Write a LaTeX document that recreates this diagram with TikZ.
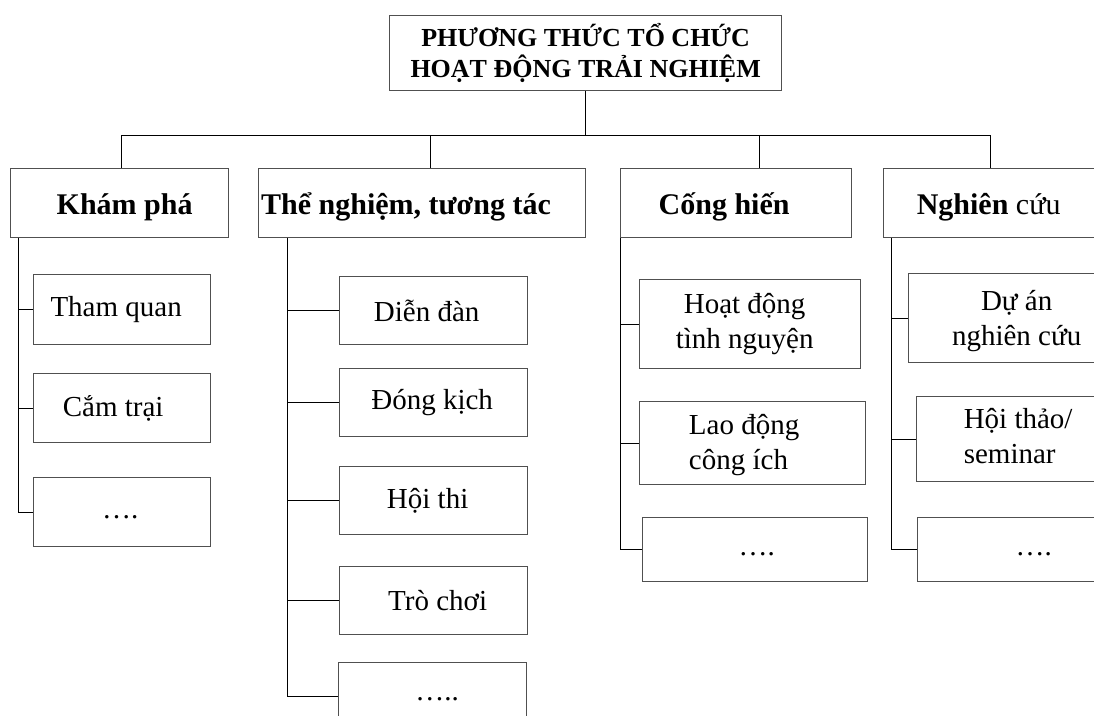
\documentclass[tikz,border=0pt]{standalone}
\usepackage{fontspec}
\setmainfont{Liberation Serif}
\definecolor{boxgray}{RGB}{80,80,80}
\tikzset{
  x=1pt, y=-1pt,
  box/.style={draw=boxgray, line width=1.3pt, inner sep=0pt},
  wire/.style={draw=black, line width=1pt},
  lbl/.style={inner sep=0pt, font=\fontsize{29}{35}\selectfont, align=center},
  head/.style={inner sep=0pt, font=\fontsize{30}{36}\selectfont\bfseries},
  headplain/.style={inner sep=0pt, font=\fontsize{30}{36}\selectfont},
  ttl/.style={inner sep=0pt, font=\fontsize{26}{31}\selectfont\bfseries, align=center},
}
% \mkbox{name}{x1}{y1}{x2}{y2}: empty frame from top-left to bottom-right corner
\newcommand{\mkbox}[5]{%
  \node[box, anchor=north west, minimum width=#4pt-#2pt, minimum height=#5pt-#3pt] (#1) at (#2,#3) {};}
\begin{document}
\begin{tikzpicture}
\useasboundingbox (0,0) rectangle (1094,715);
\clip (0,0) rectangle (1094,715);

% ---- frames ----
\mkbox{title}{389}{15}{781}{90}
\mkbox{kp}{10}{168}{228}{237}
\mkbox{tn}{258}{168}{585}{237}
\mkbox{ch}{620}{168}{851}{237}
\mkbox{nc}{883}{168}{1100}{237}

\mkbox{k1}{33}{274}{210}{344}
\mkbox{k2}{33}{373}{210}{442}
\mkbox{k3}{33}{477}{210}{546}

\mkbox{t1}{339}{276}{527}{344}
\mkbox{t2}{339}{368}{527}{436}
\mkbox{t3}{339}{466}{527}{534}
\mkbox{t4}{339}{566}{527}{634}
\mkbox{t5}{338}{662}{526}{730}

\mkbox{c1}{639}{279}{860}{368}
\mkbox{c2}{639}{401}{865}{484}
\mkbox{c3}{642}{517}{867}{581}

\mkbox{n1}{908}{273}{1122}{362}
\mkbox{n2}{916}{396}{1122}{481}
\mkbox{n3}{917}{517}{1122}{581}

% ---- texts ----
\node[ttl] (title-t) at (title.center) {PHƯƠNG THỨC TỔ CHỨC\\HOẠT ĐỘNG TRẢI NGHIỆM};

\node[head] (kp-t) at ([xshift=5pt,yshift=-4pt]kp.center) {Khám phá};
\node[head, anchor=west] (tn-t) at ([xshift=3pt,yshift=-4pt]tn.west) {Thể nghiệm, tương tác};
\node[head] (ch-t) at ([xshift=-12pt,yshift=-4pt]ch.center) {Cống hiến};
\node[headplain] (nc-t) at ([xshift=-3.5pt,yshift=-4pt]nc.center) {\textbf{Nghiên} cứu};

\node[lbl] (k1-t) at ([xshift=-6pt]k1.center) {Tham quan};
\node[lbl] (k2-t) at ([xshift=-9pt]k2.center) {Cắm trại};
\node[lbl] (k3-t) at ([xshift=-2pt,yshift=-5pt]k3.center) {….};

\node[lbl] (t1-t) at ([xshift=-7pt]t1.center) {Diễn đàn};
\node[lbl] (t2-t) at ([xshift=-1.5pt]t2.center) {Đóng kịch};
\node[lbl] (t3-t) at ([xshift=-6pt]t3.center) {Hội thi};
\node[lbl] (t4-t) at ([xshift=4pt]t4.center) {Trò chơi};
\node[lbl] (t5-t) at ([xshift=4.5pt,yshift=-2.5pt]t5.center) {…..};

\node[lbl] (c1-t) at ([xshift=-5.5pt]c1.center) {Hoạt động\\tình nguyện};
\node[lbl, align=left] (c2-t) at ([xshift=-8.5pt,yshift=-2pt]c2.center) {Lao động\\công ích};
\node[lbl] (c3-t) at ([xshift=1.5pt,yshift=-4.5pt]c3.center) {….};

\node[lbl] (n1-t) at ([xshift=1pt,yshift=-3pt]n1.center) {Dự án\\nghiên cứu};
\node[lbl, align=left] (n2-t) at ([xshift=-1.5pt,yshift=3pt]n2.center) {Hội thảo/\\seminar};
\node[lbl] (n3-t) at ([xshift=13.5pt,yshift=-4.5pt]n3.center) {….};

% ---- bus from the title to the four groups ----
\coordinate (s1) at (121,135);
\coordinate (s2) at (430,135);
\coordinate (s3) at (759,135);
\coordinate (s4) at (990,135);
\draw[wire] (title.south) -- (title.south |- s1);
\draw[wire] (s1) -- (s4);
\draw[wire] (s1) -- (s1 |- kp.north);
\draw[wire] (s2) -- (s2 |- tn.north);
\draw[wire] (s3) -- (s3 |- ch.north);
\draw[wire] (s4) -- (s4 |- nc.north);

% ---- rails down each group ----
\coordinate (kprail) at (18,0);
\coordinate (tnrail) at (287,0);
\coordinate (chrail) at (620,0);
\coordinate (ncrail) at (891,0);

\draw[wire] (kp.south -| kprail) |- (k3.west);
\foreach \b in {k1,k2} \draw[wire] (\b.west -| kprail) -- (\b.west);

\draw[wire] (tn.south -| tnrail) |- (t5.west);
\foreach \b in {t1,t2,t3,t4} \draw[wire] (\b.west -| tnrail) -- (\b.west);

\draw[wire] (ch.south -| chrail) |- (c3.west);
\foreach \b in {c1,c2} \draw[wire] (\b.west -| chrail) -- (\b.west);

\draw[wire] (nc.south -| ncrail) |- (n3.west);
\foreach \b in {n1,n2} \draw[wire] (\b.west -| ncrail) -- (\b.west);
\end{tikzpicture}
\end{document}
